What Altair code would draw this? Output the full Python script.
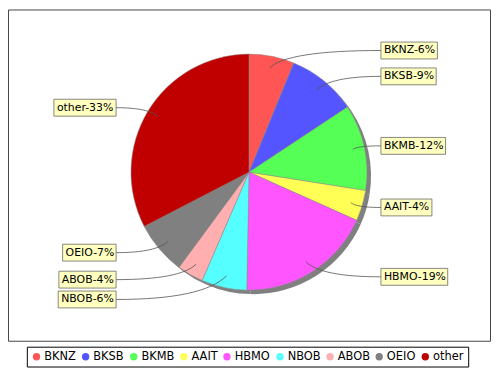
import math
import altair as alt
import pandas as pd

# ---- data ----
names = ["BKNZ", "BKSB", "BKMB", "AAIT", "HBMO", "NBOB", "ABOB", "OEIO", "other"]
values = [6.2, 9.5, 11.8, 4.2, 18.6, 6.2, 3.6, 7.3, 32.6]
labels = ["BKNZ-6%", "BKSB-9%", "BKMB-12%", "AAIT-4%", "HBMO-19%",
          "NBOB-6%", "ABOB-4%", "OEIO-7%", "other-33%"]
colors = ["#FF5555", "#5555FF", "#55FF55", "#FFFF55", "#FF55FF",
          "#55FFFF", "#FFAFAF", "#808080", "#C00000"]

# ---- layout / style ----
W, H = 486, 334
SHIFT = -3                      # pie drawn slightly above the view centre
CX, CY = W / 2, H / 2 + SHIFT
R = 119
FONT = "DejaVu Sans"
FS = 11
EM = {"A": .684, "B": .686, "E": .632, "H": .752, "I": .295, "K": .656, "M": .863,
      "N": .748, "O": .787, "S": .635, "T": .611, "Z": .685, "-": .361, "%": .950,
      "o": .612, "t": .392, "h": .634, "e": .615, "r": .411}


def text_w(s):
    return sum(EM.get(c, .636) for c in s) * FS


total = sum(values)
pie = pd.DataFrame({"name": names, "value": values, "idx": range(len(names))})

# label geometry derived from the slice angles
rows = []
cum = 0.0
for n, v, lab in zip(names, values, labels):
    mid = (cum + v / 2) / total * 2 * math.pi
    cum += v
    side = 1 if mid < math.pi else -1
    rows.append({"name": n, "label": lab, "mid": mid, "side": side,
                 "ly": CY - 125 * math.cos(mid)})

# push labels down on each side so boxes don't overlap
for s in (1, -1):
    grp = sorted([r for r in rows if r["side"] == s], key=lambda r: r["ly"])
    for a, b in zip(grp, grp[1:]):
        if b["ly"] - a["ly"] < 20:
            b["ly"] = a["ly"] + 20

box_rows, line_rows = [], []
for r in rows:
    mid, s, ly = r["mid"], r["side"], r["ly"]
    w = text_w(r["label"]) + 5
    if s == 1:
        x0 = CX + 133
        x1 = x0 + w
        xe = x0
    else:
        x1 = CX - 134
        x0 = x1 - w
        xe = x1
    box_rows.append({"label": r["label"], "x0": x0, "x1": x1,
                     "y0": ly - 8.5, "y1": ly + 8.5, "tx": x0 + 3, "ty": ly})
    # curved leader: quadratic curve from a point inside the slice to the box
    ax, ay = CX + 107 * math.sin(mid), CY - 107 * math.cos(mid)
    qx = ax + s * abs(ly - ay)
    qx = min(qx, xe) if s == 1 else max(qx, xe)
    qy = ly
    n_seg = 16
    for k in range(n_seg + 1):
        t = k / n_seg
        px = (1 - t) ** 2 * ax + 2 * (1 - t) * t * qx + t ** 2 * xe
        py = (1 - t) ** 2 * ay + 2 * (1 - t) * t * qy + t ** 2 * ly
        line_rows.append({"label": r["label"], "k": k, "x": px, "y": py})

boxes = pd.DataFrame(box_rows)
lines = pd.DataFrame(line_rows)

xs = alt.Scale(domain=[0, W], nice=False, zero=False)
ys = alt.Scale(domain=[H, 0], nice=False, zero=False)

theta = alt.Theta("value:Q", stack=True)
order = alt.Order("idx:Q")

shadow = alt.Chart(pie).mark_arc(outerRadius=R, xOffset=4, yOffset=4 + SHIFT,
                                 color="#808080").encode(theta=theta, order=order)

arcs = alt.Chart(pie).mark_arc(outerRadius=R, yOffset=SHIFT, stroke="#8a8a8a",
                               strokeWidth=0.5).encode(
    theta=theta,
    order=order,
    color=alt.Color("name:N", sort=names,
                    scale=alt.Scale(domain=names, range=colors),
                    legend=alt.Legend(
                        title=None, orient="none", legendX=19, legendY=340,
                        direction="horizontal", columns=9, gridAlign="each",
                        symbolType="circle", symbolSize=55, symbolStrokeWidth=0,
                        labelFont=FONT, labelFontSize=11.5, labelColor="#000",
                        labelOffset=2, columnPadding=3.5, labelLimit=0,
                        strokeColor="#000", fillColor="#fff", padding=4)),
)

link = alt.Chart(lines).mark_line(color="#555", strokeWidth=0.8).encode(
    x=alt.X("x:Q", scale=xs, axis=None),
    y=alt.Y("y:Q", scale=ys, axis=None),
    detail="label:N",
    order="k:Q",
)

box_shadow = alt.Chart(boxes).mark_rect(fill="#979797", opacity=0.5, xOffset=2, yOffset=2).encode(
    x=alt.X("x0:Q", scale=xs, axis=None), x2="x1:Q",
    y=alt.Y("y0:Q", scale=ys, axis=None), y2="y1:Q")

box = alt.Chart(boxes).mark_rect(fill="#FFFFC0", stroke="#555", strokeWidth=0.7).encode(
    x=alt.X("x0:Q", scale=xs, axis=None), x2="x1:Q",
    y=alt.Y("y0:Q", scale=ys, axis=None), y2="y1:Q")

txt = alt.Chart(boxes).mark_text(align="left", baseline="middle", font=FONT,
                                 fontSize=FS, color="#000").encode(
    x=alt.X("tx:Q", scale=xs, axis=None),
    y=alt.Y("ty:Q", scale=ys, axis=None),
    text="label:N")

chart = alt.layer(shadow, arcs, link, box_shadow, box, txt).properties(
    width=W, height=H,
    autosize=alt.AutoSizeParams(type="none"),
    padding={"left": 0, "top": 0, "right": 2, "bottom": 28},
    background="#ffffff",
).configure_view(stroke="#444", strokeWidth=1)

chart.save("out.html", embed_options={"renderer": "svg", "actions": False})
